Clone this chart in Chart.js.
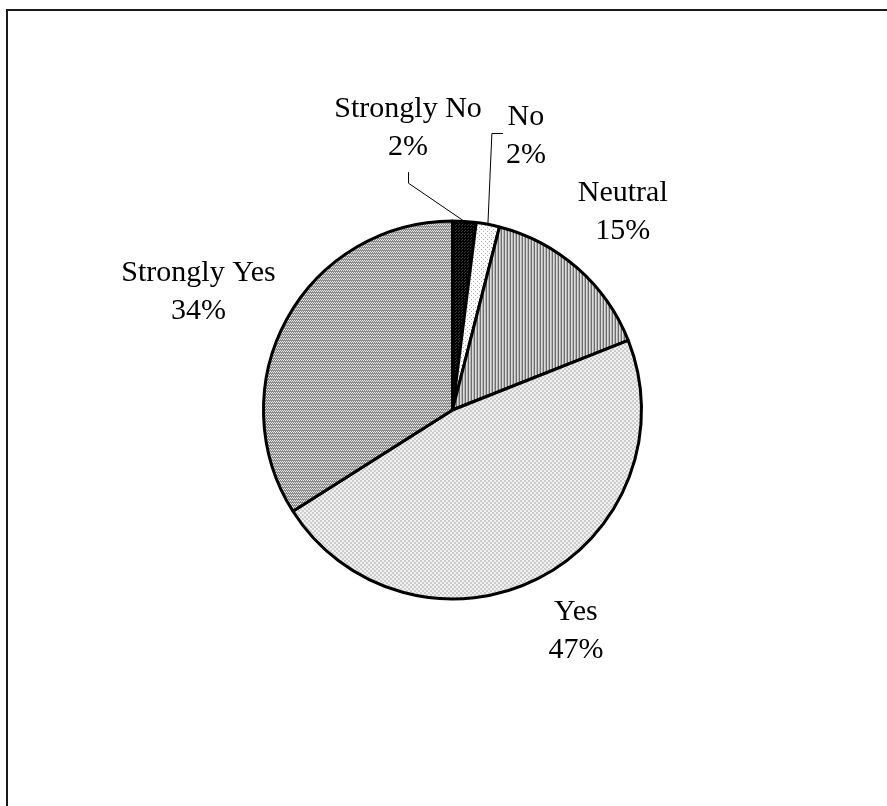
<!DOCTYPE html>
<html>
<head>
<meta charset="utf-8">
<script src="https://cdn.jsdelivr.net/npm/chart.js@4.4.0/dist/chart.umd.min.js"></script>
<style>
  html, body { margin: 0; padding: 0; background: #ffffff; }
  #wrap { width: 887px; height: 806px; position: relative; }
  canvas { display: block; }
</style>
</head>
<body>
<div id="wrap"><canvas id="chart" width="887" height="806"></canvas></div>
<script>
// Survey answers and their shares (percent)
const categories = ['Strongly No', 'No', 'Neutral', 'Yes', 'Strongly Yes'];
const shares = [2, 2, 15, 47, 34];
const shareLabels = shares.map(v => v + '%');

// Where each two-line label sits, relative to its slice's middle angle
const labelPlacement = [
  { angleShift: -12.5, dist: 1.52, leader: 'below' },
  { angleShift: 4.1,   dist: 1.51, leader: 'left' },
  { angleShift: -1.0,  dist: 1.39 },
  { angleShift: -2.4,  dist: 1.33 },
  { angleShift: -3.6,  dist: 1.485 }
];

// Small bitmap tiles used as fill patterns (monochrome print style)
function makePattern(rows, palette) {
  const h = rows.length, w = rows[0].length;
  const c = document.createElement('canvas');
  c.width = w; c.height = h;
  const g = c.getContext('2d');
  for (let j = 0; j < h; j++) {
    for (let i = 0; i < w; i++) {
      g.fillStyle = palette[rows[j][i]];
      g.fillRect(i, j, 1, 1);
    }
  }
  return g.createPattern(c, 'repeat');
}

const ctx = document.getElementById('chart').getContext('2d');

const fills = [
  // near-solid black with a faint texture
  makePattern(['kkd', 'kkk', 'dkk'], { k: '#000000', d: '#3a3a3a' }),
  // white with sparse dots
  makePattern(['wwww', 'wdww', 'wwww', 'wwwd'], { w: '#ffffff', d: '#b0b0b0' }),
  // vertical hatching
  makePattern(['dlm'], { d: '#6e6e6e', l: '#dcdcdc', m: '#b4b4b4' }),
  // light checker
  makePattern(['aabb', 'aabb', 'bbaa', 'bbaa'], { a: '#cdcdcd', b: '#f0f0f0' }),
  // dense dotted rows
  makePattern(['gwgw', 'gggg', 'wgwg'], { g: '#8c8c8c', w: '#e6e6e6' })
];

const LABEL_FONT = '30px "Liberation Serif", "Times New Roman", serif';
const LINE_GAP = 38;

const framePlugin = {
  id: 'frame',
  beforeDraw(chart) {
    const c = chart.ctx;
    c.save();
    c.fillStyle = '#ffffff';
    c.fillRect(0, 0, chart.width, chart.height);
    c.strokeStyle = '#1a1a1a';
    c.lineWidth = 2;
    c.beginPath();
    c.moveTo(7, chart.height);
    c.lineTo(7, 10);
    c.lineTo(chart.width, 10);
    c.stroke();
    c.restore();
  }
};

const sliceLabels = {
  id: 'sliceLabels',
  afterDatasetsDraw(chart) {
    const c = chart.ctx;
    const meta = chart.getDatasetMeta(0);
    c.save();
    c.font = LABEL_FONT;
    c.fillStyle = '#000000';
    c.textAlign = 'center';
    c.textBaseline = 'alphabetic';
    meta.data.forEach((arc, i) => {
      const { x, y, startAngle, endAngle, outerRadius } =
        arc.getProps(['x', 'y', 'startAngle', 'endAngle', 'outerRadius'], true);
      const mid = (startAngle + endAngle) / 2;
      const p = labelPlacement[i];
      const a = mid + p.angleShift * Math.PI / 180;
      const r = outerRadius * p.dist;
      const cx = x + Math.cos(a) * r;
      const cy = y + Math.sin(a) * r;
      const b1 = cy + 10 - LINE_GAP / 2;
      const b2 = cy + 10 + LINE_GAP / 2;
      c.fillText(categories[i], cx, b1);
      c.fillText(shareLabels[i], cx, b2);

      if (p.leader) {
        const sx = x + Math.cos(mid) * outerRadius;
        const sy = y + Math.sin(mid) * outerRadius;
        c.save();
        c.strokeStyle = '#000000';
        c.lineWidth = 1;
        c.beginPath();
        if (p.leader === 'below') {
          c.moveTo(sx, sy);
          c.lineTo(Math.round(cx) + 0.5, b2 + 28);
          c.lineTo(Math.round(cx) + 0.5, b2 + 17);
        } else {
          const w = Math.max(c.measureText(categories[i]).width, c.measureText(shareLabels[i]).width);
          const left = cx - w / 2;
          c.moveTo(sx, sy);
          c.lineTo(left - 14, Math.round(b1 + 8) + 0.5);
          c.lineTo(left - 3, Math.round(b1 + 8) + 0.5);
        }
        c.stroke();
        c.restore();
      }
    });
    c.restore();
  }
};

new Chart(ctx, {
  type: 'pie',
  data: {
    labels: categories,
    datasets: [{
      data: shares,
      backgroundColor: fills,
      borderColor: '#000000',
      borderWidth: 3,
      radius: 189
    }]
  },
  options: {
    responsive: false,
    devicePixelRatio: 1,
    animation: false,
    events: [],
    layout: { padding: { left: 39, right: 21, top: 34, bottom: 20 } },
    plugins: {
      legend: { display: false },
      tooltip: { enabled: false },
      title: { display: false }
    }
  },
  plugins: [framePlugin, sliceLabels]
});
</script>
</body>
</html>
